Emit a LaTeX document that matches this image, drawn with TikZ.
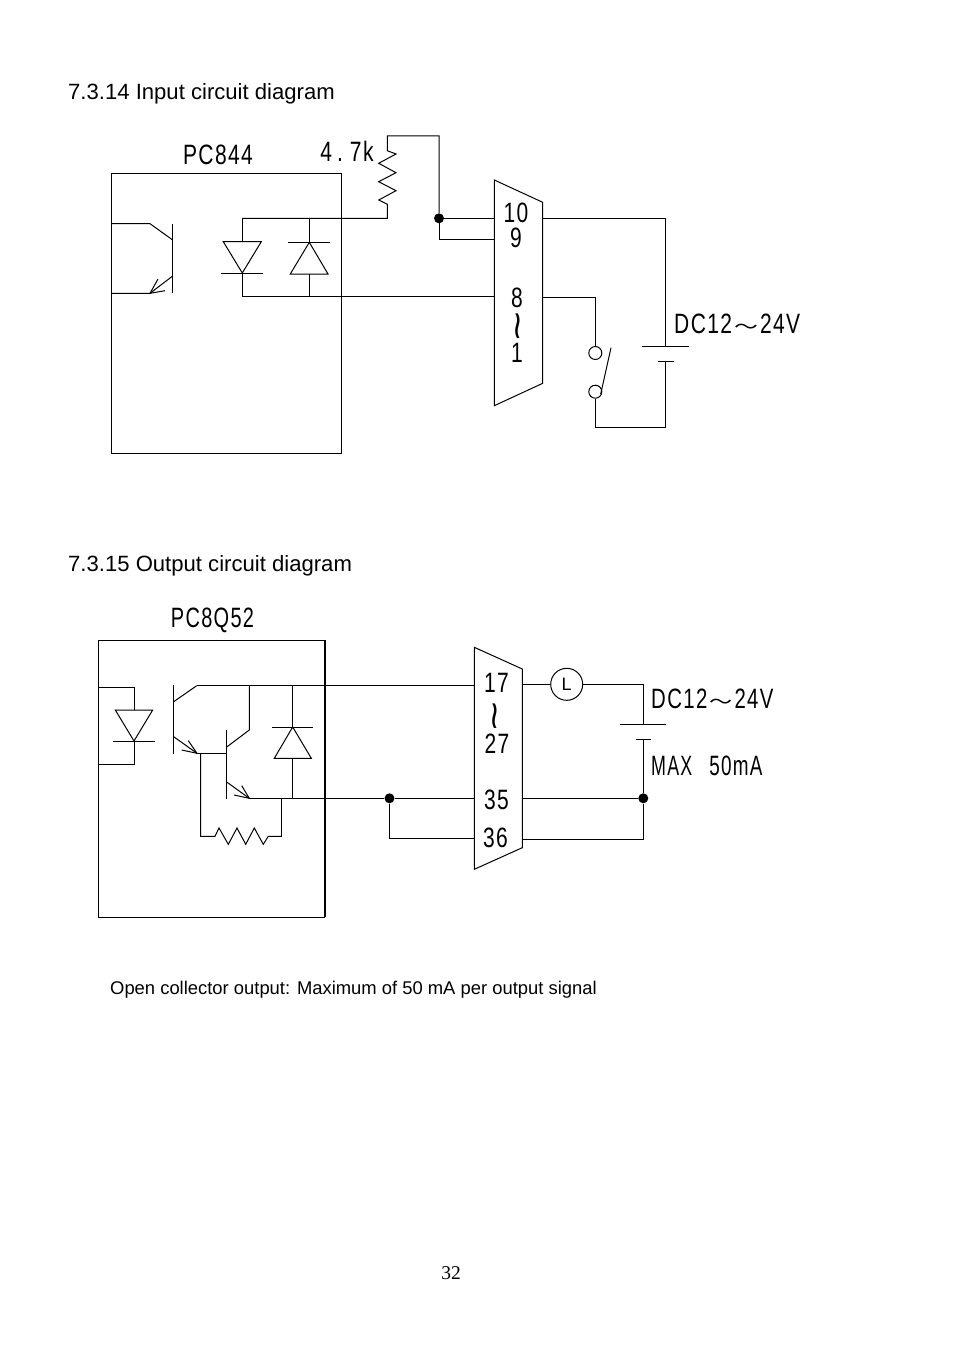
\documentclass[tikz,border=0pt]{standalone}
\usepackage{fontspec}
\setmainfont{Liberation Sans}
\newfontfamily\pinfont[FakeStretch=0.75,LetterSpace=5]{Liberation Sans}
\newfontfamily\tilfont{DejaVu Sans Mono}
\newfontfamily\widefont{Noto Sans CJK JP}
\newfontfamily\pagefont{Liberation Serif}
\newcommand{\widetil}{\makebox[28pt]{\widefont\scalebox{.85}[.65]{～}}}
\newcommand{\vtilde}{\rotatebox{90}{\tilfont\scalebox{1.7}[1.1]{∼}}}
\tikzset{
	wire/.style={black, line width=1pt},
	heading/.style={anchor=west, inner sep=0pt, font=\fontsize{22.1}{24}\selectfont},
	pin/.style={inner sep=0pt, font=\pinfont\fontsize{28}{30}\selectfont},
	pinleft/.style={pin, anchor=west},
	dot/.style={circle, fill=black, inner sep=0pt, minimum size=10pt},
	contact/.style={circle, draw=black, line width=1pt, fill=white, inner sep=0pt, minimum size=13pt},
}
\begin{document}
\begin{tikzpicture}[x=1pt, y=-1pt]
	\useasboundingbox (0, 0) rectangle (954, 1348);

	\node[heading] (titlein) at (68, 94) {7.3.14 Input circuit diagram};
	\node[heading] (titleout) at (68, 566) {7.3.15 Output circuit diagram};
	\node[anchor=west, inner sep=0pt, font=\fontsize{18.4}{20}\selectfont] (note) at (110, 990) {Open collector output: Maximum of 50 mA per output signal};
	\node[inner sep=0pt, font=\pagefont\fontsize{19.5}{21}\selectfont] (pagenum) at (451, 1273) {32};

	% input circuit
	\draw[wire] (111.7, 173.3) rectangle (341.3, 453);
	\node[pin] (pcin) at (218, 155) {PC844};
	\node[pin] (rval) at (347, 151) {4\kern5pt.\kern7pt 7k};

	% phototransistor
	\draw[wire] (172.7, 223.7) -- (172.7, 293.3);
	\draw[wire] (111.7, 223.7) -- (150, 223.7) -- (172.7, 240);
	\draw[wire] (111.7, 293.3) -- (150, 293.3) -- (172.7, 276);
	\draw[wire] (158, 279) -- (150, 293.3) -- (165, 290.7);

	% diodes
	\coordinate (da) at (242.3, 218.3);
	\coordinate (db) at (309.3, 218.3);
	\coordinate (ca) at (242.3, 296.3);
	\coordinate (cb) at (309.3, 296.3);
	\draw[wire] (223.3, 241.7) -- (261.3, 241.7) -- (242.3, 273) -- cycle;
	\draw[wire] (221.3, 273) -- (263.3, 273);
	\draw[wire] (da) -- (242.3, 241.7);
	\draw[wire] (242.3, 273) -- (ca);
	\draw[wire] (288.3, 242.3) -- (330.3, 242.3);
	\draw[wire] (309.3, 242.3) -- (328, 274) -- (290.3, 274) -- cycle;
	\draw[wire] (db) -- (309.3, 242.3);
	\draw[wire] (309.3, 274) -- (cb);

	% connector
	\coordinate (cnin) at (494.3, 180);
	\draw[wire] (cnin) -- (542.7, 202.3) -- (542.7, 383.3) -- (494.3, 405.7) -- cycle;
	\node[pin] (pten) at (516, 212.5) {10};
	\node[pin] (pnine) at (516, 238) {9};
	\node[pin] (peight) at (517, 298) {8};
	\node[pin] (ptil) at (522, 326) {\vtilde};
	\node[pin] (pone) at (517, 352.5) {1};

	% resistor and wiring
	\node[dot] (jin) at (439, 218.3) {};
	\coordinate (rtop) at (387.3, 150.7);
	\coordinate (rbot) at (387.3, 204.3);
	\draw[wire] (da) -- (387.3, 218.3) -- (rbot) -- (378.7, 200) -- (396, 190.7) -- (378.7, 181.7) -- (396, 172.7) -- (378.7, 163.3) -- (396, 154) -- (rtop) -- (387.3, 136) -- (439, 136) -- (jin);
	\draw[wire] (jin) -- (494.3, 218.3);
	\draw[wire] (jin) -- (439, 240) -- (494.3, 240);
	\draw[wire] (ca) -- (494.3, 296.3);

	% switch and battery
	\node[contact] (swa) at (595.3, 353) {};
	\node[contact] (swb) at (595.3, 391.7) {};
	\coordinate (batin) at (665.7, 346.7);
	\coordinate (batinb) at (665.7, 361.7);
	\draw[wire] (542.7, 218.3) -- (665.7, 218.3) -- (batin);
	\draw[wire] (642.3, 346.7) -- (689, 346.7);
	\draw[wire] (657.7, 361.7) -- (674, 361.7);
	\draw[wire] (batinb) -- (665.7, 427.7) -- (595.3, 427.7) -- (swb);
	\draw[wire] (542.7, 297.7) -- (595.3, 297.7) -- (swa);
	\draw[wire] (600.7, 394) -- (611, 347.7);
	\node[pinleft] (dcin) at (674, 324) {DC12\widetil 24V};

	% output circuit
	\draw[wire] (98.3, 640.3) -- (325, 640.3);
	\draw[wire] (98.3, 640.3) -- (98.3, 917) -- (325, 917);
	\draw[black, line width=1.5pt] (325, 640.3) -- (325, 917);
	\node[pin] (pcout) at (212.5, 620) {\scalebox{.95}[1]{PC8Q52}};

	% photodiode
	\draw[wire] (98.3, 687) -- (134, 687) -- (134, 710);
	\draw[wire] (115.3, 710) -- (152.7, 710) -- (134, 741) -- cycle;
	\draw[wire] (113.3, 741) -- (155, 741);
	\draw[wire] (134, 741) -- (134, 764.3) -- (98.3, 764.3);

	% darlington pair
	\coordinate (bus) at (196.7, 685.7);
	\coordinate (ea) at (197, 753.3);
	\coordinate (eb) at (249.3, 798.3);
	\draw[wire] (173.7, 685) -- (173.7, 753.7);
	\draw[wire] (173.7, 701.7) -- (bus);
	\draw[wire] (173.7, 736.7) -- (ea);
	\draw[wire] (188.3, 740.7) -- (ea) -- (181.7, 750);
	\draw[wire] (ea) -- (226.7, 753.3);
	\draw[wire] (226.7, 730) -- (226.7, 798.7);
	\draw[wire] (226.7, 747) -- (249.3, 730) -- (249.3, 685.7);
	\draw[wire] (226.7, 782) -- (eb);
	\draw[wire] (241.7, 785.7) -- (eb) -- (234, 795);

	% resistor
	\draw[wire] (200.7, 753.3) -- (200.7, 836.3) -- (215, 836.3) -- (219, 828) -- (228.3, 844.3) -- (237, 828) -- (245.7, 844.3) -- (254.3, 828) -- (263.3, 844.3) -- (268.3, 836.3) -- (281.7, 836.3);
	\draw[black, line width=1.5pt] (281.7, 837) -- (281.7, 798.3);

	% clamp diode
	\draw[wire] (292.7, 685.7) -- (292.7, 727);
	\draw[wire] (272.3, 727) -- (313.3, 727);
	\draw[wire] (292.7, 727) -- (311.3, 758.3) -- (274.3, 758.3) -- cycle;
	\draw[wire] (292.7, 758.3) -- (292.7, 798.3);

	% connector
	\coordinate (cnout) at (474.3, 647.3);
	\draw[wire] (cnout) -- (522.3, 669) -- (522.3, 847.7) -- (474.3, 869.3) -- cycle;
	\node[pin] (pseven) at (496.5, 683) {17};
	\node[pin] (ptilb) at (499, 716) {\vtilde};
	\node[pin] (ptwoseven) at (497, 744) {27};
	\node[pin] (pfive) at (496.5, 800) {35};
	\node[pin] (psix) at (495.5, 838) {36};

	\node[dot] (jouta) at (389.5, 798.3) {};
	\node[dot] (joutb) at (643.3, 798.3) {};
	\draw[wire] (bus) -- (474.3, 685.7);
	\draw[wire] (eb) -- (jouta);
	\draw[wire] (jouta) -- (474.3, 798.3);
	\draw[wire] (jouta) -- (389.5, 838.7) -- (474.3, 838.7);

	% load and battery
	\node[circle, draw=black, line width=1pt, inner sep=0pt, minimum size=32pt, font=\fontsize{18}{20}\selectfont] (load) at (566.7, 684.3) {L};
	\draw[wire] (522.3, 684.3) -- (load);
	\draw[wire] (load) -- (643.3, 684.3) -- (643.3, 724.3);
	\draw[wire] (620.3, 724.3) -- (666.3, 724.3);
	\draw[wire] (635.7, 739.3) -- (651.3, 739.3);
	\draw[wire] (643.3, 739.3) -- (joutb);
	\draw[wire] (522.3, 798.3) -- (joutb);
	\draw[wire] (joutb) -- (643.3, 839) -- (522.3, 839);
	\node[pinleft] (dcout) at (651, 699) {\scalebox{.97}[1]{DC12\widetil 24V}};
	\node[pinleft] (maxout) at (651, 766) {\scalebox{.85}[1]{MAX}\kern17pt\scalebox{.9}[1]{50mA}};
\end{tikzpicture}
\end{document}
